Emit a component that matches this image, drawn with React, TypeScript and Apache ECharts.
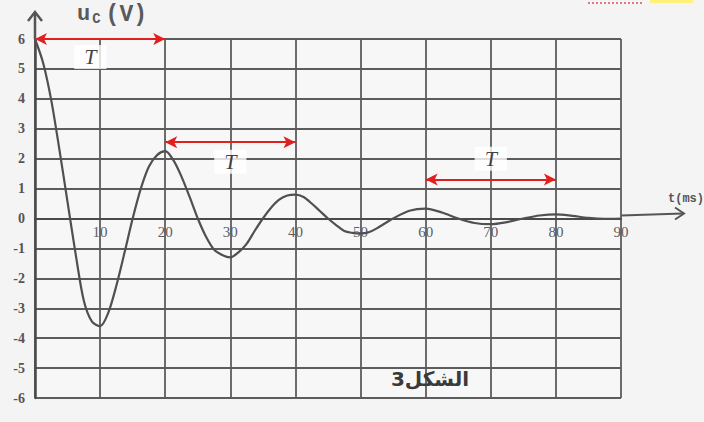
import { useEffect, useRef } from "react";
import * as echarts from "echarts";

const tMs = [0, 1.25, 2.5, 3.75, 5, 6.25, 7.5, 8.75, 10, 11.25, 12.5, 13.75, 15, 16.25, 17.5, 18.75, 20, 21.25, 22.5, 23.75, 25, 26.25, 27.5, 28.75, 30, 31.25, 32.5, 33.75, 35, 36.25, 37.5, 38.75, 40, 41.25, 42.5, 43.75, 45, 46.25, 47.5, 48.75, 50, 51.25, 52.5, 55, 57.5, 60, 62.5, 65, 67.5, 70, 72.5, 75, 77.5, 80, 82.5, 85, 87.5, 90];
const uC = [6, 5.2, 3.95, 2.3, 0.55, -1.2, -2.75, -3.45, -3.6, -3.15, -2.24, -1.14, 0, 1.0, 1.74, 2.12, 2.25, 1.95, 1.4, 0.72, 0, -0.6, -1.04, -1.22, -1.3, -1.13, -0.85, -0.41, 0, 0.36, 0.63, 0.77, 0.8, 0.72, 0.5, 0.25, 0, -0.22, -0.42, -0.48, -0.5, -0.46, -0.33, 0, 0.26, 0.33, 0.2, 0, -0.15, -0.19, -0.12, 0, 0.1, 0.14, 0.09, 0.02, -0.01, 0];

const xTicks = [0, 10, 20, 30, 40, 50, 60, 70, 80, 90];
const yTicks = [-6, -5, -4, -3, -2, -1, 0, 1, 2, 3, 4, 5, 6];

// period arrows: start t, end t, level u
const periodStart = [0, 20, 60];
const periodEnd = [20, 40, 80];
const periodLevel = [6, 2.55, 1.3];
// "T" label anchor (t, u)
const labelT = [8.5, 30, 70];
const labelU = [5.4, 1.9, 2.0];

export default function App() {
  const ref = useRef<HTMLDivElement>(null);
  useEffect(() => {
    document.body.style.margin = "0";
    const el = ref.current!;
    const chart = echarts.init(el, null, { renderer: "svg" });
    const gridColor = "#5c5c5c";
    const gridTop = 39;
    const gridBottom = 24;
    const gridH = 422 - gridTop - gridBottom;
    const yMin = yTicks[0];
    const yMax = yTicks[yTicks.length - 1];
    const zeroOffset = -gridH * (0 - yMin) / (yMax - yMin);
    const option: any = {
      animation: false,
      backgroundColor: "#f4f4f4",
      grid: { left: 35, right: 83, top: gridTop, bottom: gridBottom, show: true, backgroundColor: "#f7f7f7", borderWidth: 0 },
      xAxis: {
        type: "value",
        min: xTicks[0],
        max: xTicks[xTicks.length - 1],
        interval: 10,
        position: "bottom",
        offset: zeroOffset,
        axisLine: { show: true, onZero: false, lineStyle: { color: "#4a4a4a", width: 2 } },
        axisTick: { show: false },
        splitLine: { show: true, lineStyle: { color: gridColor, width: 1.8 } },
        axisLabel: {
          margin: 6,
          color: "#5e5e5e",
          fontSize: 15,
          fontFamily: "Liberation Serif",
          formatter: (v: number) => (v === 0 ? "" : String(v)),
        },
      },
      yAxis: {
        type: "value",
        min: yMin,
        max: yMax,
        interval: 1,
        axisLine: { show: true, lineStyle: { color: "#4a4a4a", width: 2.5 } },
        axisTick: { show: false },
        splitLine: { show: true, lineStyle: { color: gridColor, width: 1.8 } },
        axisLabel: {
          margin: 10,
          color: "#555",
          fontSize: 14,
          fontWeight: "bold",
          fontFamily: "Liberation Serif",
        },
      },
      series: [
        {
          type: "line",
          data: tMs.map((t, i) => [t, uC[i]]),
          smooth: 0.3,
          showSymbol: false,
          lineStyle: { color: "#505050", width: 2.2 },
          markLine: {
            silent: true,
            symbol: ["arrow", "arrow"],
            symbolSize: [9, 12],
            label: { show: false },
            lineStyle: { color: "#e0201e", width: 2, type: "solid" },
            data: periodStart.map((s, i) => [
              { coord: [s, periodLevel[i]] },
              { coord: [periodEnd[i], periodLevel[i]] },
            ]),
          },
        },
        {
          type: "scatter",
          symbolSize: 1,
          itemStyle: { color: "rgba(0,0,0,0)" },
          data: labelT.map((t, i) => [t, labelU[i]]),
          label: {
            show: true,
            position: "inside",
            formatter: "T",
            color: "#111",
            fontSize: 22,
            fontStyle: "italic",
            fontFamily: "Liberation Serif",
            backgroundColor: "#ffffff",
            padding: [1, 10],
          },
          z: 5,
        },
      ],
    };
    chart.setOption(option);
    const o = chart.convertToPixel({ gridIndex: 0 }, [0, 0]) as number[];
    const c = chart.convertToPixel({ gridIndex: 0 }, [90, 6]) as number[];
    chart.setOption({
      graphic: [
        { type: "line", shape: { x1: c[0], y1: o[1] - 3, x2: c[0] + 62, y2: o[1] - 5 }, style: { stroke: "#555", lineWidth: 2 } },
        { type: "polyline", shape: { points: [[c[0] + 54, o[1] - 11], [c[0] + 63, o[1] - 5], [c[0] + 54, o[1] + 1]] }, style: { stroke: "#555", lineWidth: 2, fill: "none" } },
        { type: "line", shape: { x1: o[0], y1: c[1], x2: o[0], y2: c[1] - 27 }, style: { stroke: "#555", lineWidth: 2.5 } },
        { type: "polyline", shape: { points: [[o[0] - 7, c[1] - 18], [o[0], c[1] - 27], [o[0] + 7, c[1] - 18]] }, style: { stroke: "#555", lineWidth: 2.5, fill: "none" } },
        {
          type: "text",
          x: 77,
          y: 3,
          style: {
            text: "{a|u}{b|C}{c|(V)}",
            rich: {
              a: { fontSize: 22, fontWeight: "bold", fontFamily: "Liberation Mono", fill: "#5a5a5a" },
              b: { fontSize: 14, fontWeight: "bold", fontFamily: "Liberation Mono", fill: "#5a5a5a", padding: [8, 5, 0, 2] },
              c: { fontSize: 23, fontWeight: "bold", fontFamily: "Liberation Mono", fill: "#5a5a5a" },
            },
          },
        },
        {
          type: "text",
          x: 668,
          y: 193,
          style: { text: "t(ms)", fontSize: 12, fontWeight: "bold", fontFamily: "Liberation Mono", fill: "#555" },
        },
        {
          type: "text",
          x: 430,
          y: 379,
          style: { text: "الشكل3", fontSize: 20, fontWeight: "bold", fontFamily: "DejaVu Sans", fill: "#3a3a3a", align: "center", verticalAlign: "middle" },
        },
        { type: "rect", shape: { x: 650, y: 0, width: 43, height: 3 }, style: { fill: "#fff27a" } },
        { type: "line", shape: { x1: 588, y1: 3, x2: 643, y2: 3 }, style: { stroke: "#e05050", lineWidth: 1.5, lineDash: [2, 2] } },
      ],
    });
    return () => chart.dispose();
  }, []);
  return <div ref={ref} style={{ width: 704, height: 422 }} />;
}
